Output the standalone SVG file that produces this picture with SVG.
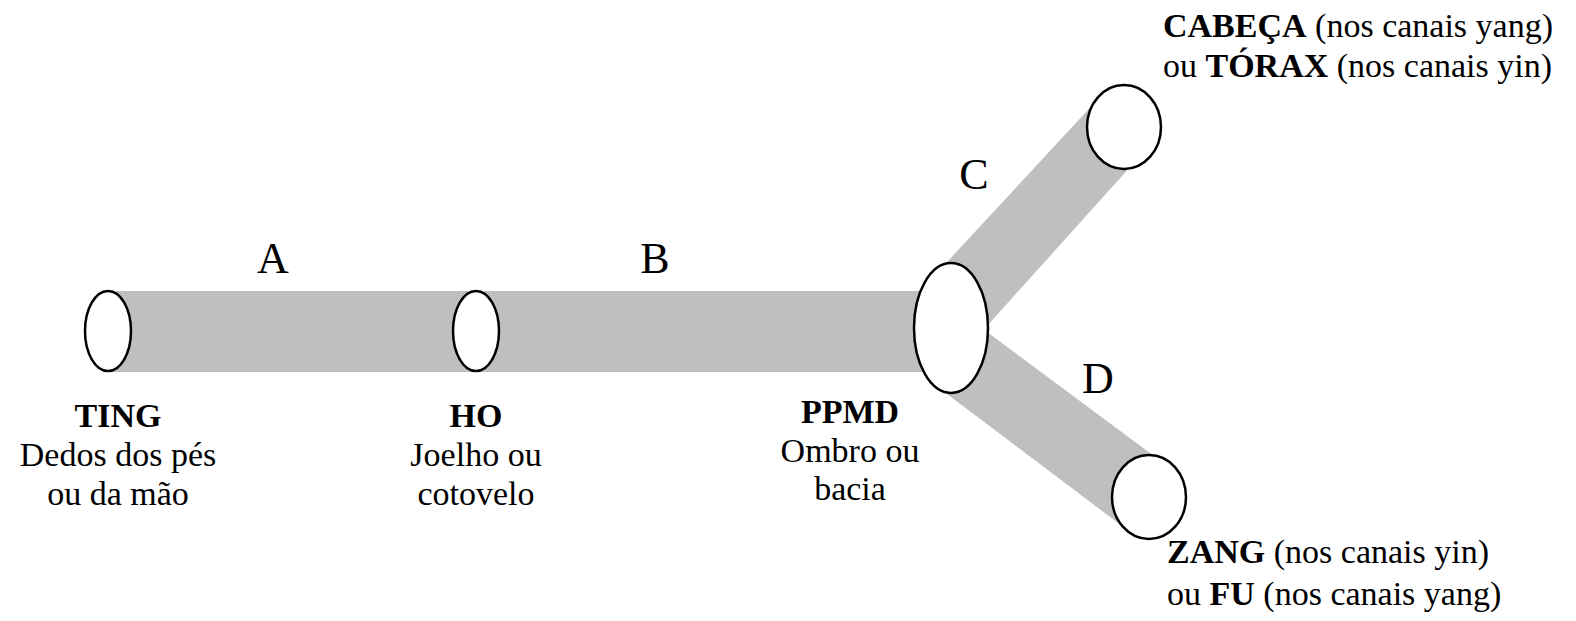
<svg xmlns="http://www.w3.org/2000/svg" width="1576" height="621" viewBox="0 0 1576 621">
<style>
.band{fill:#bfbfbf;stroke:none}
.node{fill:#fff;stroke:#000;stroke-width:2.5}
text{font-family:"Liberation Serif","Times New Roman",serif;font-size:34px;fill:#000}
.b{font-weight:bold}
.c{text-anchor:middle}
.lbl{font-size:44px}
</style>
<rect width="1576" height="621" fill="#fff"/>
<g id="connectors">
<rect class="band" x="108" y="291" width="840" height="81"/>
<polygon class="band" points="935,275 1100,97 1140,156 960,356"/>
<polygon class="band" points="975,323 1162,462 1130,532 935,385"/>
<text class="c lbl" x="273" y="273">A</text>
<text class="c lbl" x="655" y="273">B</text>
<text class="c lbl" x="974" y="189">C</text>
<text class="c lbl" x="1098" y="393">D</text>
</g>
<g id="ting">
<ellipse class="node" cx="108" cy="331" rx="23" ry="40"/>
<text class="c b" x="118" y="427">TING</text>
<text class="c" x="118" y="466">Dedos dos pés</text>
<text class="c" x="118" y="505">ou da mão</text>
</g>
<g id="ho">
<ellipse class="node" cx="476" cy="331" rx="23" ry="40"/>
<text class="c b" x="476" y="427">HO</text>
<text class="c" x="476" y="466">Joelho ou</text>
<text class="c" x="476" y="505">cotovelo</text>
</g>
<g id="ppmd">
<ellipse class="node" cx="951" cy="328" rx="37" ry="65"/>
<text class="c b" x="850" y="423">PPMD</text>
<text class="c" x="850" y="462">Ombro ou</text>
<text class="c" x="850" y="500">bacia</text>
</g>
<g id="cabeca">
<ellipse class="node" cx="1124" cy="127" rx="37" ry="42"/>
<text x="1163" y="37"><tspan class="b">CABEÇA</tspan> (nos canais yang)</text>
<text x="1163" y="77">ou <tspan class="b">TÓRAX</tspan> (nos canais yin)</text>
</g>
<g id="zang">
<ellipse class="node" cx="1149" cy="497" rx="37" ry="42"/>
<text x="1167" y="563"><tspan class="b">ZANG</tspan> (nos canais yin)</text>
<text x="1167" y="605">ou <tspan class="b">FU</tspan> (nos canais yang)</text>
</g>
</svg>
